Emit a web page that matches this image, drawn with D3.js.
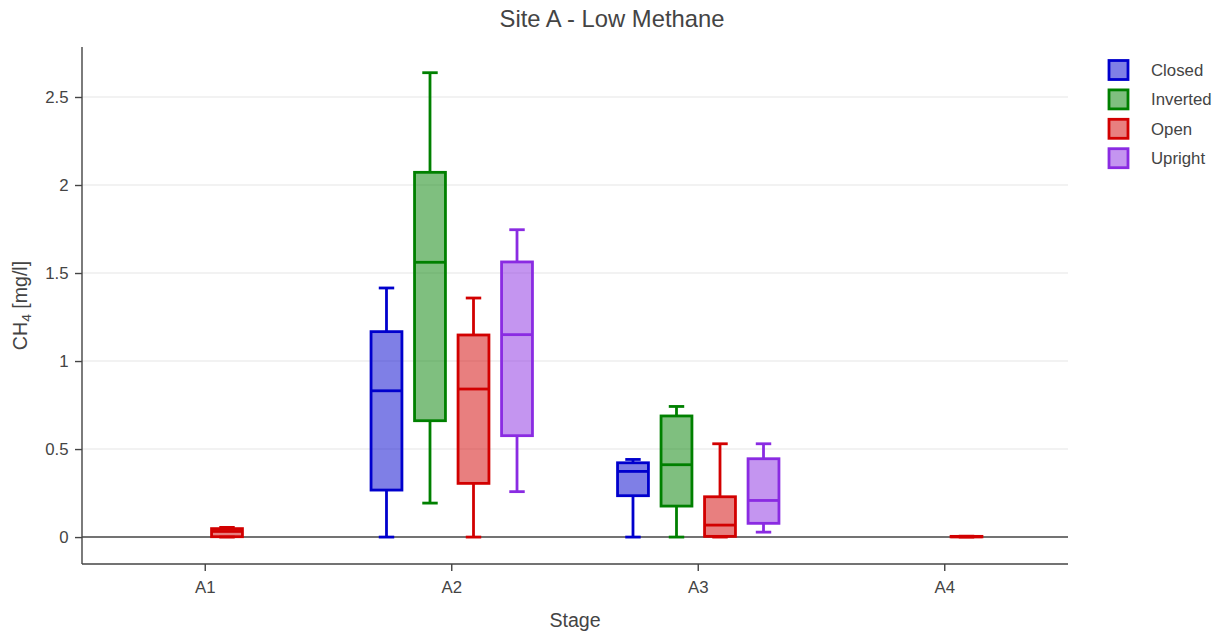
<!DOCTYPE html>
<html>
<head>
<meta charset="utf-8">
<script src="https://cdn.jsdelivr.net/npm/d3@7"></script>
<style>
  html, body { margin: 0; padding: 0; background: #fff; }
  svg { display: block; font-family: "Liberation Sans", Arial, sans-serif; }
</style>
</head>
<body>
<svg id="chart" width="1223" height="634"></svg>
<script>
// Stages on the x axis and the chamber types drawn side by side in each stage
const stages = ["A1", "A2", "A3", "A4"];
const groups = ["Closed", "Inverted", "Open", "Upright"];
const groupColors = ["rgb(0,0,205)", "rgb(0,128,0)", "rgb(210,0,0)", "rgb(138,43,226)"];
const yTicks = [0, 0.5, 1, 1.5, 2, 2.5];

// Box statistics per stage: [lower whisker, Q1, median, Q3, upper whisker]
const closedStats   = [null, [0, 0.267, 0.831, 1.167, 1.415], [0, 0.235, 0.373, 0.422, 0.441], null];
const invertedStats = [null, [0.193, 0.661, 1.561, 2.072, 2.638], [0, 0.176, 0.411, 0.688, 0.742], null];
const openStats     = [[0, 0.002, 0.032, 0.048, 0.055], [0, 0.305, 0.841, 1.148, 1.358], [0, 0.004, 0.068, 0.229, 0.530], [0, 0.001, 0.002, 0.004, 0.005]];
const uprightStats  = [null, [0.258, 0.576, 1.150, 1.563, 1.746], [0.028, 0.078, 0.208, 0.445, 0.530], null];
const statsByGroup = [closedStats, invertedStats, openStats, uprightStats];

const svg = d3.select("#chart");
const W = 1223, H = 634;
const margin = { left: 82, right: 155, top: 47, bottom: 70 };
const plotLeft = margin.left, plotRight = W - margin.right;
const plotTop = margin.top, plotBottom = H - margin.bottom;
const textColor = "#444";

const x = d3.scaleBand().domain(stages).range([plotLeft, plotRight]).padding(0);
const groupSpan = x.bandwidth() * 0.706;
const xg = d3.scaleBand().domain(groups)
  .range([-groupSpan / 2, groupSpan / 2])
  .paddingInner(0.29).paddingOuter(0.145);
const y = d3.scaleLinear().domain([-0.153, 2.784]).range([plotBottom, plotTop]);

// Horizontal grid lines
svg.append("g").selectAll("line")
  .data(yTicks.filter(d => d !== 0))
  .join("line")
  .attr("x1", plotLeft).attr("x2", plotRight)
  .attr("y1", d => y(d)).attr("y2", d => y(d))
  .attr("stroke", "#eee").attr("stroke-width", 1.4);

// Zero line
svg.append("line")
  .attr("x1", plotLeft).attr("x2", plotRight)
  .attr("y1", y(0)).attr("y2", y(0))
  .attr("stroke", textColor).attr("stroke-width", 1.4);

// Y axis
const yAxis = svg.append("g")
  .attr("transform", `translate(${plotLeft},0)`)
  .call(d3.axisLeft(y).tickValues(yTicks).tickSize(7).tickPadding(6.5)
    .tickFormat(d => d3.format("")(d)));
yAxis.select(".domain").attr("stroke", textColor).attr("stroke-width", 1.4)
  .attr("d", `M0,${plotTop}V${plotBottom}`);
yAxis.selectAll(".tick line").attr("stroke", textColor).attr("stroke-width", 1.4);
yAxis.selectAll(".tick text").attr("fill", textColor).attr("font-size", 16.8)
  .attr("font-family", "Liberation Sans, Arial, sans-serif");

// X axis
const xAxis = svg.append("g")
  .attr("transform", `translate(0,${plotBottom})`)
  .call(d3.axisBottom(x).tickSize(7).tickPadding(10));
xAxis.select(".domain").attr("stroke", textColor).attr("stroke-width", 1.4)
  .attr("d", `M${plotLeft},0H${plotRight}`);
xAxis.selectAll(".tick line").attr("stroke", textColor).attr("stroke-width", 1.4);
xAxis.selectAll(".tick text").attr("fill", textColor).attr("font-size", 16.8)
  .attr("font-family", "Liberation Sans, Arial, sans-serif");

// Box plots
const boxData = [];
groups.forEach((g, gi) => {
  statsByGroup[gi].forEach((s, si) => {
    if (s) boxData.push({ group: g, color: groupColors[gi], stage: stages[si], s });
  });
});

const boxes = svg.append("g").selectAll("g.box")
  .data(boxData)
  .join("g")
  .attr("class", "box")
  .attr("transform", d => `translate(${x(d.stage) + x.bandwidth() / 2 + xg(d.group)},0)`);

const bw = xg.bandwidth();
const sw = 2.8;

// whisker stems
boxes.append("line")
  .attr("x1", bw / 2).attr("x2", bw / 2)
  .attr("y1", d => y(d.s[0])).attr("y2", d => y(d.s[1]))
  .attr("stroke", d => d.color).attr("stroke-width", sw);
boxes.append("line")
  .attr("x1", bw / 2).attr("x2", bw / 2)
  .attr("y1", d => y(d.s[3])).attr("y2", d => y(d.s[4]))
  .attr("stroke", d => d.color).attr("stroke-width", sw);
// whisker caps
boxes.append("line")
  .attr("x1", bw / 4).attr("x2", bw * 3 / 4)
  .attr("y1", d => y(d.s[0])).attr("y2", d => y(d.s[0]))
  .attr("stroke", d => d.color).attr("stroke-width", sw);
boxes.append("line")
  .attr("x1", bw / 4).attr("x2", bw * 3 / 4)
  .attr("y1", d => y(d.s[4])).attr("y2", d => y(d.s[4]))
  .attr("stroke", d => d.color).attr("stroke-width", sw);
// interquartile box
boxes.append("rect")
  .attr("x", 0).attr("width", bw)
  .attr("y", d => y(d.s[3]))
  .attr("height", d => Math.max(0, y(d.s[1]) - y(d.s[3])))
  .attr("fill", d => d.color).attr("fill-opacity", 0.5)
  .attr("stroke", d => d.color).attr("stroke-width", sw);
// median
boxes.append("line")
  .attr("x1", 0).attr("x2", bw)
  .attr("y1", d => y(d.s[2])).attr("y2", d => y(d.s[2]))
  .attr("stroke", d => d.color).attr("stroke-width", sw);

// Title
svg.append("text")
  .attr("x", 612).attr("y", 27)
  .attr("text-anchor", "middle")
  .attr("font-size", 23.8).attr("fill", textColor)
  .text("Site A - Low Methane");

// Axis titles
svg.append("text")
  .attr("x", (plotLeft + plotRight) / 2).attr("y", 627)
  .attr("text-anchor", "middle")
  .attr("font-size", 19.6).attr("fill", textColor)
  .text("Stage");

const yTitle = svg.append("text")
  .attr("transform", `translate(27,${(plotTop + plotBottom) / 2}) rotate(-90)`)
  .attr("text-anchor", "middle")
  .attr("font-size", 19.6).attr("fill", textColor);
yTitle.append("tspan").text("CH");
yTitle.append("tspan").attr("font-size", 13.7).attr("dy", 4).text("4");
yTitle.append("tspan").attr("dy", -4).text(" [mg/l]");

// Legend
const legend = svg.append("g").selectAll("g")
  .data(groups)
  .join("g")
  .attr("transform", (d, i) => `translate(1109,${70 + i * 29.4})`);
legend.append("rect")
  .attr("x", 0).attr("y", -9.5).attr("width", 19).attr("height", 19)
  .attr("fill", (d, i) => groupColors[i]).attr("fill-opacity", 0.5)
  .attr("stroke", (d, i) => groupColors[i]).attr("stroke-width", sw);
legend.append("text")
  .attr("x", 42).attr("y", 6)
  .attr("font-size", 16.8).attr("fill", textColor)
  .text(d => d);
</script>
</body>
</html>
